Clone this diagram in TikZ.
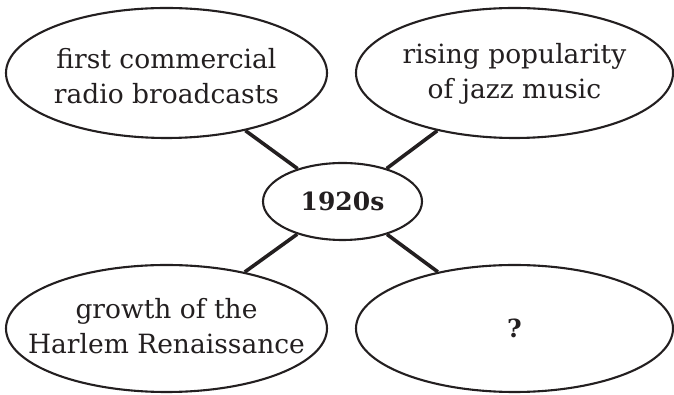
\documentclass[tikz,border=0pt]{standalone}
\usepackage{fontspec}
\setmainfont{DejaVu Serif}
\usetikzlibrary{shapes.geometric}
\definecolor{ink}{HTML}{231F20}
\begin{document}
\begin{tikzpicture}[x=1pt,y=1pt,
  bubble/.style={ellipse, draw=ink, line width=2.1pt, inner sep=0pt},
  leaf/.style={bubble, minimum width=321pt, minimum height=130pt},
  hub/.style={bubble, minimum width=159pt, minimum height=77pt},
  txt/.style={align=center, text=ink, font=\fontsize{26.5}{35}\selectfont, inner sep=0pt},
  boldtxt/.style={text=ink, font=\fontsize{25}{30}\selectfont\bfseries, inner sep=0pt},
  link/.style={draw=ink, line width=3.6pt}]
\useasboundingbox (0,0) rectangle (674,395);
\node[leaf] (tl) at (166.5,322) {};
\node[leaf, minimum width=317pt] (tr) at (514.5,322) {};
\node[leaf, minimum height=127pt] (bl) at (166.5,66.5) {};
\node[leaf, minimum width=317pt, minimum height=127pt] (br) at (514.5,66.5) {};
\node[hub] (hub) at (342.5,193.5) {};
\node[txt] (tltext) at ([yshift=-3pt]tl.center) {first commercial\\radio broadcasts};
\node[txt] (trtext) at ([yshift=-1pt]tr.center) {rising popularity\\of jazz music};
\node[txt] (bltext) at ([yshift=2pt]bl.center) {growth of the\\Harlem Renaissance};
\node[boldtxt] (brtext) at (br) {?};
\node[boldtxt] (hubtext) at (hub) {1920s};
\draw[link] (hub) -- (tl);
\draw[link] (hub) -- (tr);
\draw[link] (hub) -- (bl);
\draw[link] (hub) -- (br);
\end{tikzpicture}
\end{document}
